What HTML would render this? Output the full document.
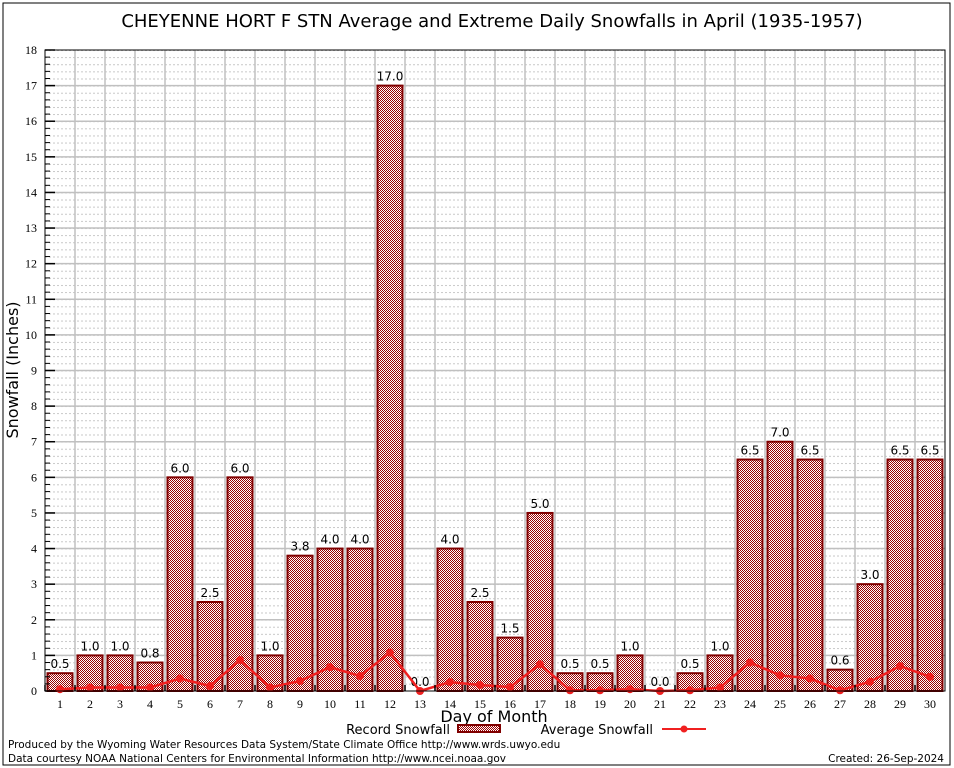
<!DOCTYPE html>
<html><head><meta charset="utf-8"><style>
html,body{margin:0;padding:0;background:#fff;}
svg{display:block;font-family:"DejaVu Sans","Liberation Sans",sans-serif;}
</style></head><body>
<svg id="chart" width="954" height="768" viewBox="0 0 954 768">
<defs>
<pattern id="dots" width="4" height="7.12" patternUnits="userSpaceOnUse" x="45" y="50">
<rect x="0" y="0" width="2" height="1" fill="#c8c8c8"/>
</pattern>
<pattern id="check" width="2" height="2" patternUnits="userSpaceOnUse">
<rect width="2" height="2" fill="#fff"/>
<rect width="1" height="1" fill="#9a0000"/>
<rect x="1" y="1" width="1" height="1" fill="#9a0000"/>
</pattern>
</defs>
<rect x="3" y="3" width="947" height="762" fill="none" stroke="#000" stroke-width="1"/>
<text x="492" y="27" font-size="18" text-anchor="middle">CHEYENNE HORT F STN Average and Extreme Daily Snowfalls in April (1935-1957)</text>
<rect x="45" y="50" width="900" height="641" fill="url(#dots)"/>
<g id="grid"></g>
<g id="bars"></g>
<g id="avg"></g>
<g id="axes"></g>
<text transform="translate(18,370) rotate(-90)" font-size="16" text-anchor="middle">Snowfall (Inches)</text>
<text x="494" y="722" font-size="16" text-anchor="middle">Day of Month</text>
<g>
<text x="450" y="734" font-size="13" text-anchor="end">Record Snowfall</text>
<rect x="458" y="725" width="42" height="7" fill="url(#check)" stroke="#800000" stroke-width="2"/>
</g>
<g>
<text x="653" y="734" font-size="13" text-anchor="end">Average Snowfall</text>
<line x1="662" y1="729" x2="706" y2="729" stroke="#f02020" stroke-width="2"/>
<circle cx="684" cy="729" r="3.5" fill="#f02020"/>
</g>
<text x="8" y="748" font-size="10.5">Produced by the Wyoming Water Resources Data System/State Climate Office http://www.wrds.uwyo.edu</text>
<text x="8" y="762" font-size="10.5">Data courtesy NOAA National Centers for Environmental Information http://www.ncei.noaa.gov</text>
<text x="944" y="762" font-size="10.5" text-anchor="end">Created: 26-Sep-2024</text>
</svg>
<script>
const days = [1,2,3,4,5,6,7,8,9,10,11,12,13,14,15,16,17,18,19,20,21,22,23,24,25,26,27,28,29,30];
const recordSnow = [0.5,1.0,1.0,0.8,6.0,2.5,6.0,1.0,3.8,4.0,4.0,17.0,0.0,4.0,2.5,1.5,5.0,0.5,0.5,1.0,0.0,0.5,1.0,6.5,7.0,6.5,0.6,3.0,6.5,6.5];
const avgSnow = [0.05,0.1,0.1,0.1,0.35,0.14,0.87,0.1,0.28,0.67,0.42,1.08,0.0,0.25,0.17,0.11,0.75,0.02,0.02,0.05,0.0,0.02,0.1,0.8,0.44,0.35,0.02,0.26,0.7,0.4];
const yTicks = [0,1,2,3,4,5,6,7,8,9,10,11,12,13,14,15,16,17,18];

const NS = "http://www.w3.org/2000/svg";
const L = 45, R = 945, T = 50, B = 691, YMAX = 18;
const bw = (R - L) / days.length;
function xC(i){ return L + bw * (i + 0.5); }
function yS(v){ return B - (v / YMAX) * (B - T); }
function mk(tag, attrs, parent){ const e = document.createElementNS(NS, tag); for (const k in attrs) e.setAttribute(k, attrs[k]); parent.appendChild(e); return e; }

const grid = document.getElementById('grid');
yTicks.forEach(t => {
  if (t > 0 && t < YMAX) {
    const g = mk('line', {x1:L, x2:R, y1:yS(t), y2:yS(t), stroke:'#c0c0c0', 'stroke-width':1.5}, grid);
    
    
  }
});
days.forEach((d, i) => {
  if (i > 0) {
    const g = mk('line', {x1:L + bw*i, x2:L + bw*i, y1:T, y2:B, stroke:'#c0c0c0', 'stroke-width':1.5}, grid);
    
    
  }
});

const bars = document.getElementById('bars');
recordSnow.forEach((v, i) => {
  const x = xC(i) - 12.5, y = yS(v);
  if (v > 0) {
    const r = mk('rect', {x:x, y:y, width:25, height:B - y, fill:'url(#check)', stroke:'#800000', 'stroke-width':2}, bars);
    
    
  }
  const t = mk('text', {x:xC(i), y:y - 5, 'font-size':12, 'text-anchor':'middle'}, bars);
  t.textContent = v.toFixed(1);
  
  
});

const avg = document.getElementById('avg');
const pts = avgSnow.map((v, i) => xC(i) + ',' + yS(v)).join(' ');
const pl = mk('polyline', {points:pts, fill:'none', stroke:'#f02020', 'stroke-width':2.5}, avg);


avgSnow.forEach((v, i) => {
  const c = mk('circle', {cx:xC(i), cy:yS(v), r:4, fill:'#f02020'}, avg);
  
  
});

const axes = document.getElementById('axes');
const frame = mk('rect', {x:L, y:T, width:R - L, height:B - T, fill:'none', stroke:'#000', 'stroke-width':1}, axes);


yTicks.forEach(t => {
  const y = yS(t);
  mk('line', {x1:L, x2:L + 10, y1:y, y2:y, stroke:'#000', 'stroke-width':1.5}, axes);
  const lb = mk('text', {x:L - 8, y:y + 4, 'font-size':12, 'text-anchor':'end', 'font-family':'Liberation Serif, serif'}, axes);
  lb.textContent = t;
  
  
  if (t < YMAX) for (let k = 1; k < 5; k++) {
    const ym = yS(t + k * 0.2);
    mk('line', {x1:L, x2:L + 5, y1:ym, y2:ym, stroke:'#000', 'stroke-width':1}, axes);
  }
});
days.forEach((d, i) => {
  mk('line', {x1:L + bw*i, x2:L + bw*i, y1:B, y2:B - 6, stroke:'#000', 'stroke-width':1.5}, axes);
  const lb = mk('text', {x:xC(i), y:B + 17, 'font-size':12, 'text-anchor':'middle', 'font-family':'Liberation Serif, serif'}, axes);
  lb.textContent = d;
  
  
});
</script>
</body></html>
